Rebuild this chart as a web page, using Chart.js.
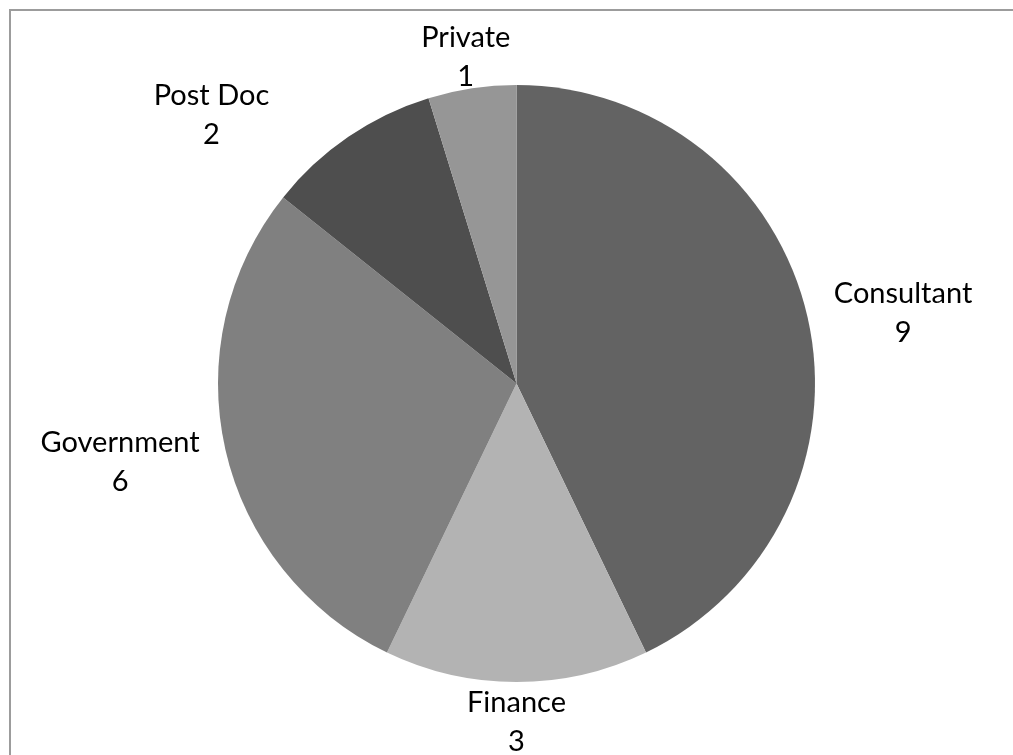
<!DOCTYPE html>
<html>
<head>
<meta charset="utf-8">
<script src="https://cdn.jsdelivr.net/npm/chart.js@4"></script>
<style>
    body { margin: 0; background: #fff; overflow: hidden; }
    #marco {
        position: absolute; left: 9px; top: 9px; width: 1100px; height: 800px;
        border-left: 2px solid #9c9c9c; border-top: 2px solid #9c9c9c;
    }
    #chart { position: absolute; left: 0; top: 0; }
</style>
</head>
<body>
<div id="marco"></div>
<canvas id="chart" width="1013" height="755"></canvas>
<script>
// Datos del gráfico
const categorias = ['Consultant', 'Finance', 'Government', 'Post Doc', 'Private'];
const valores = [9, 3, 6, 2, 1];
const colores = ['#636363', '#b3b3b3', '#808080', '#4e4e4e', '#969696'];

// Desplazamiento extra de etiquetas (Excel movió "Post Doc" para no chocar)
const ajusteEtiquetas = [[0, 0], [0, 0], [0, 0], [-96, 4], [0, 0]];

// Plugin para dibujar las etiquetas fuera del pastel
const etiquetasFuera = {
    id: 'etiquetasFuera',
    afterDatasetsDraw(chart) {
        const ctx = chart.ctx;
        const meta = chart.getDatasetMeta(0);
        ctx.save();
        ctx.font = '29px Lato';
        ctx.fillStyle = '#000';
        ctx.textAlign = 'center';
        ctx.textBaseline = 'alphabetic';
        meta.data.forEach((arc, i) => {
            const p = arc.getProps(['x', 'y', 'startAngle', 'endAngle', 'outerRadius'], true);
            const mid = (p.startAngle + p.endAngle) / 2;
            const dx = Math.cos(mid), dy = Math.sin(mid);
            const linea1 = categorias[i];
            const linea2 = String(valores[i]);
            const w = Math.max(ctx.measureText(linea1).width, ctx.measureText(linea2).width);
            const distX = p.outerRadius + Math.abs(dx) * (w / 2 + 24) + Math.abs(dy) * 32;
            const distY = p.outerRadius + 36;
            const cx = p.x + dx * distX + ajusteEtiquetas[i][0];
            const cy = p.y + dy * distY + ajusteEtiquetas[i][1];
            ctx.fillText(linea1, cx, cy - 6);
            ctx.fillText(linea2, cx, cy + 33);
        });
        ctx.restore();
    }
};

const ctx = document.getElementById('chart').getContext('2d');
new Chart(ctx, {
    type: 'pie',
    data: {
        labels: categorias,
        datasets: [{
            data: valores,
            backgroundColor: colores,
            borderWidth: 0
        }]
    },
    options: {
        responsive: false,
        animation: false,
        layout: {
            padding: { left: 218, right: 198, top: 85, bottom: 73 }
        },
        plugins: {
            legend: { display: false },
            tooltip: { enabled: false }
        }
    },
    plugins: [etiquetasFuera]
});
</script>
</body>
</html>
